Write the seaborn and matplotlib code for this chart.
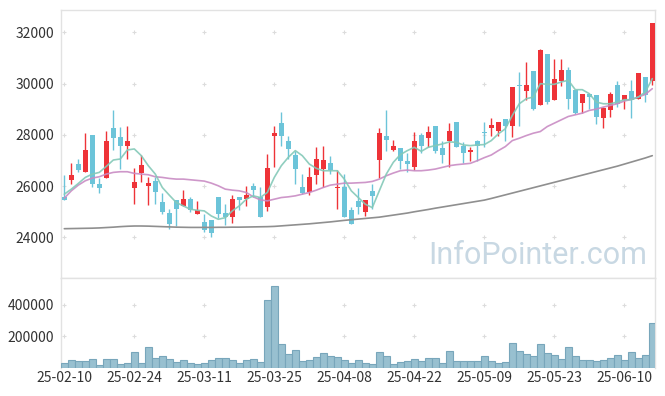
import numpy as np
import pandas as pd
import matplotlib
matplotlib.use("Agg")
import matplotlib.pyplot as plt
import seaborn as sns

# ---------------- data ----------------
tick_pos = [0, 10, 20, 30, 40, 50, 60, 70, 80]
tick_labels = ["25-02-10", "25-02-24", "25-03-11", "25-03-25", "25-04-08",
               "25-04-22", "25-05-09", "25-05-23", "25-06-10"]

opens = [25580, 26250, 26880, 26540, 28010, 26100, 26300, 28250, 27910, 27560,
         25910, 26500, 25990, 26210, 25390, 24960, 25450, 25220, 25500, 24930,
         24600, 24680, 25580, 24960, 24810, 25580, 25480, 26000, 25560, 25200,
         27950, 28470, 27780, 27230, 25980, 25770, 26450, 26650, 26920, 25910,
         25980, 25070, 25430, 25010, 25820, 27020, 27950, 27410, 27470, 26980,
         26730, 28000, 27870, 28350, 27470, 27750, 28520, 27580, 27320, 27780,
         28100, 28260, 28140, 28640, 28340, 29960, 29710, 30480, 29160, 31150,
         29350, 30100, 30520, 29740, 29240, 29580, 29540, 28650, 28980, 29940,
         29370, 29700, 29400, 30250, 30100]
highs = [26450, 26900, 27060, 28080, 28010, 26320, 28170, 28990, 28300, 28330,
         26710, 27230, 26340, 26340, 25730, 25100, 25450, 25840, 25580, 25430,
         24900, 24680, 25580, 25300, 25660, 25580, 25990, 26130, 25980, 27260,
         28350, 28900, 27940, 27390, 26470, 26760, 27540, 27580, 27190, 26630,
         26470, 25190, 25920, 25450, 26100, 28260, 28990, 27800, 27470, 27280,
         28100, 28070, 28330, 28350, 27780, 28470, 28520, 27710, 27540, 27800,
         28490, 28670, 28520, 28640, 29860, 30460, 30850, 30480, 31370, 31150,
         30980, 30980, 30650, 29740, 29610, 29580, 29540, 29090, 29670, 30090,
         29540, 30130, 30400, 30250, 32380]
lows = [25450, 26080, 26540, 26540, 25950, 25750, 26300, 27410, 26670, 27060,
        25300, 26150, 25270, 25300, 24900, 24330, 24460, 25220, 25010, 24900,
        24200, 24030, 24770, 24490, 24550, 25070, 25220, 25560, 24810, 25030,
        26730, 27560, 27070, 26080, 25710, 25660, 26080, 25950, 26470, 25100,
        24810, 24540, 24900, 24840, 25100, 26300, 27390, 27360, 26670, 26550,
        26640, 27310, 27520, 27280, 26900, 26730, 27520, 26900, 26970, 26970,
        27510, 27970, 27970, 27780, 27910, 28340, 29350, 28960, 29160, 29220,
        29350, 29900, 29020, 28820, 28850, 29020, 28430, 28260, 28690, 29090,
        29020, 28670, 29400, 29280, 29940]
closes = [25470, 26450, 26620, 27430, 26070, 25910, 27780, 27870, 27560, 27780,
          26160, 26840, 26130, 25790, 25010, 24540, 25090, 25500, 25060, 25060,
          24300, 24180, 24930, 24810, 25500, 25470, 25660, 25840, 24810, 26720,
          28090, 27950, 27440, 26650, 25740, 26370, 27070, 27030, 26640, 25980,
          24810, 24540, 25200, 25450, 25600, 28080, 27800, 27580, 26970, 26850,
          27780, 27560, 28130, 27360, 27230, 28170, 27540, 27310, 27430, 27580,
          28060, 28370, 28520, 28330, 29860, 29900, 29940, 29030, 31310, 29270,
          30170, 30520, 29400, 28850, 29610, 29480, 28690, 29050, 29610, 29220,
          29540, 29350, 30400, 29570, 32350]
ma5 = [25687, 25883, 26105, 26341, 26471, 26537, 26772, 27020, 27060, 27412,
       27452, 27190, 26798, 26471, 25949, 25648, 25360, 25230, 25099, 25060,
       25034, 24838, 24707, 24772, 25034, 25230, 25491, 25622, 25556, 25753,
       26341, 26798, 27125, 27386, 27190, 26863, 26694, 26602, 26602, 26602,
       26275, 25818, 25556, 25295, 25164, 25818, 26471, 26929, 27229, 27386,
       27517, 27360, 27517, 27582, 27648, 27726, 27713, 27608, 27582, 27608,
       27622, 27778, 28040, 28236, 28759, 29216, 29412, 29477, 30000, 29974,
       29974, 30066, 30131, 29765, 29765, 29608, 29281, 29216, 29216, 29281,
       29373, 29373, 29477, 29674, 30196]
ma20 = [25530, 25818, 26040, 26210, 26315, 26367, 26471, 26537, 26563, 26563,
        26498, 26471, 26445, 26367, 26341, 26301, 26275, 26275, 26249, 26223,
        26197, 26118, 26014, 25883, 25844, 25818, 25753, 25583, 25465, 25426,
        25491, 25556, 25583, 25622, 25687, 25753, 25844, 25949, 26040, 26079,
        26118, 26118, 26132, 26145, 26184, 26275, 26406, 26511, 26602, 26628,
        26602, 26602, 26628, 26667, 26733, 26798, 26837, 26863, 26890, 26994,
        27112, 27216, 27386, 27543, 27778, 27870, 27974, 28066, 28131, 28327,
        28458, 28589, 28719, 28785, 28850, 28955, 29007, 29085, 29151, 29216,
        29321, 29386, 29477, 29582, 29804]
ma_long = [24340, 24345, 24350, 24355, 24360, 24370, 24385, 24400, 24420, 24435,
           24445, 24445, 24440, 24430, 24420, 24410, 24400, 24395, 24390, 24390,
           24390, 24390, 24395, 24395, 24400, 24400, 24405, 24410, 24415, 24420,
           24430, 24450, 24470, 24490, 24510, 24530, 24555, 24580, 24605, 24635,
           24665, 24690, 24715, 24740, 24765, 24790, 24830, 24870, 24910, 24950,
           25000, 25045, 25090, 25140, 25185, 25230, 25275, 25320, 25365, 25410,
           25455, 25520, 25590, 25660, 25730, 25800, 25870, 25940, 26010, 26080,
           26150, 26220, 26290, 26360, 26430, 26500, 26570, 26640, 26710, 26780,
           26860, 26940, 27020, 27100, 27190]
volumes = [28400, 49600, 43200, 43200, 53800, 15700, 53800, 53800, 22000, 28400,
           98300, 28400, 130000, 60200, 72900, 53800, 34800, 47500, 28400, 22000,
           28400, 47500, 60200, 60200, 47500, 28400, 47500, 53800, 34800, 428700,
           517900, 149200, 85600, 111000, 41100, 47500, 66500, 92000, 72900, 66500,
           47500, 28400, 47500, 28400, 22000, 98300, 72900, 22000, 34800, 41100,
           53800, 41100, 60200, 60200, 28400, 104700, 41100, 41100, 41100, 41100,
           72900, 41100, 28400, 34800, 155400, 104700, 85600, 72900, 149200, 92000,
           79300, 53800, 130000, 72900, 47500, 47500, 41100, 47500, 60200, 79300,
           47500, 98300, 60200, 79300, 282900]
price_ticks = [24000, 26000, 28000, 30000, 32000]
volume_ticks = [200000, 400000]

# ---------------- styling ----------------
sns.set_theme(style="white")
plt.rcParams['font.family'] = ['Noto Sans CJK KR', 'DejaVu Sans']

RED = "#ee3338"
BLUE = "#6cc4d9"
SPINE = "#e2e2e2"
TXT = "#333333"

W, H = 665, 396
fig = plt.figure(figsize=(W / 100, H / 100), dpi=100)
left, right = 61.3, 655.3
ax = fig.add_axes([left / W, 1 - 278 / H, (right - left) / W, (278 - 10) / H])
axv = fig.add_axes([left / W, 1 - 367.8 / H, (right - left) / W, (367.8 - 278) / H])

df = pd.DataFrame({"i": np.arange(len(closes)), "open": opens, "high": highs,
                   "low": lows, "close": closes, "ma5": ma5, "ma20": ma20,
                   "ma_long": ma_long, "vol": volumes})

# ---------------- candles ----------------
o = df["open"].to_numpy(float)
c = df["close"].to_numpy(float)
up = c >= o
cols = np.where(up, RED, BLUE)
ax.vlines(df["i"], df["low"], df["high"], colors=cols, linewidth=1.0, zorder=3)
body_bottom = np.minimum(o, c)
body_h = np.maximum(np.abs(c - o), 30)
ax.bar(df["i"], body_h, bottom=body_bottom, width=0.72, color=cols,
       linewidth=0, zorder=4)

# ---------------- moving averages ----------------
sns.lineplot(data=df, x="i", y="ma_long", ax=ax, color="#8f8f8f", linewidth=1.2, zorder=5)
sns.lineplot(data=df, x="i", y="ma20", ax=ax, color="#c98cc4", linewidth=1.2, alpha=0.9, zorder=5)
sns.lineplot(data=df, x="i", y="ma5", ax=ax, color="#84c9b8", linewidth=1.2, alpha=0.9, zorder=6)

# ---------------- volume ----------------
sns.barplot(data=df, x="i", y="vol", ax=axv, native_scale=True, width=1.0,
            color="#98c0d0", edgecolor="#78a6bb", linewidth=0.8, saturation=1,
            errorbar=None, zorder=3)

# ---------------- axes ----------------
xlim = (-0.43, 84.43)
for a in (ax, axv):
    a.set_xlim(*xlim)
    a.set_xlabel("")
    a.set_ylabel("")
    a.grid(False)
    a.set_facecolor("white")
    for s in a.spines.values():
        s.set_color(SPINE)
        s.set_linewidth(1.0)
    a.tick_params(length=0, labelsize=10, labelcolor=TXT)

ax.set_ylim(22416, 32874)
ax.set_yticks(price_ticks)
ax.set_yticklabels([str(v) for v in price_ticks])
ax.set_xticks(tick_pos)
ax.tick_params(axis="x", labelbottom=False)
ax.tick_params(axis="y", pad=5)

axv.set_ylim(0, 568000)
axv.set_yticks(volume_ticks)
axv.set_yticklabels([str(v) for v in volume_ticks])
axv.set_xticks(tick_pos)
axv.set_xticklabels(tick_labels)
axv.spines["bottom"].set_visible(False)
axv.tick_params(axis="y", pad=5)
axv.tick_params(axis="x", pad=2)

# grid "+" marks
gx, gy = np.meshgrid(tick_pos, price_ticks)
ax.scatter(gx.ravel(), gy.ravel(), marker="+", s=12, color="#dcdcdc",
           linewidths=0.8, zorder=1)
gx2, gy2 = np.meshgrid(tick_pos, volume_ticks)
axv.scatter(gx2.ravel(), gy2.ravel(), marker="+", s=12, color="#dcdcdc",
            linewidths=0.8, zorder=1)

# watermark
ax.text((647 - left) / (right - left), (278 - 264.3) / 268, "InfoPointer.com",
        transform=ax.transAxes, ha="right", va="baseline", fontsize=22,
        family=["Roboto", "DejaVu Sans"], color="#c8d8e3", zorder=2)

fig.savefig("out.png", dpi=100)
